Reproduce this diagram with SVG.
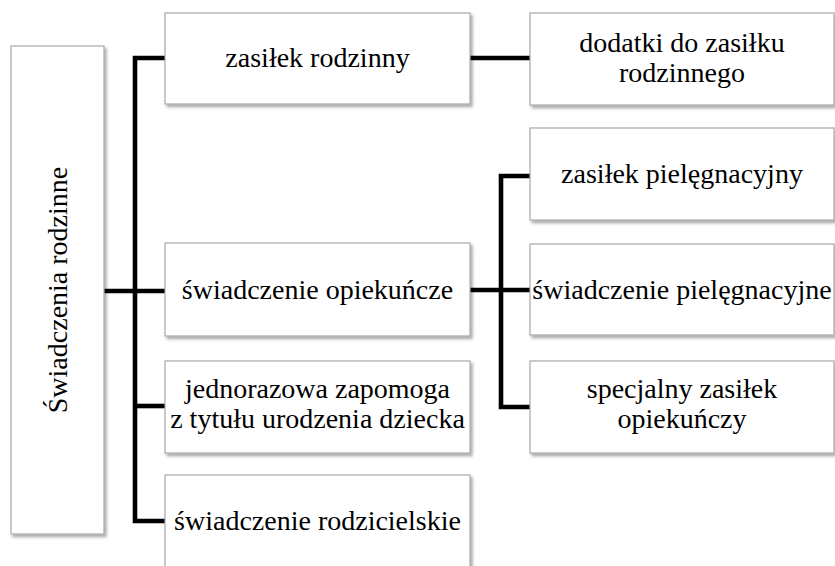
<svg xmlns="http://www.w3.org/2000/svg" width="835" height="566" viewBox="0 0 835 566">
<defs>
<filter id="sh" x="-5%" y="-5%" width="115%" height="115%">
<feDropShadow dx="2" dy="2.5" stdDeviation="1.5" flood-color="#000" flood-opacity="0.35"/>
</filter>
</defs>
<style>
.box{fill:#fff;stroke:#a8a8a8;stroke-width:1.2;filter:url(#sh)}
.t{font-size:28px;fill:#000;text-anchor:middle}
.c{fill:none;stroke:#000;stroke-width:4.6;stroke-linejoin:miter;stroke-linecap:butt}
</style>
<rect width="835" height="566" fill="#fff"/>
<g id="connectors">
<path class="c" d="M165,58 H135 V521 H165"/>
<path class="c" d="M104,291 H165"/>
<path class="c" d="M135,406 H165"/>
<path class="c" d="M470,58 H530"/>
<path class="c" d="M530,176 H501 V407 H530"/>
<path class="c" d="M470,290 H530"/>
</g>
<g font-family="'Liberation Serif', Tinos, 'Times New Roman', 'DejaVu Serif', serif">
<g id="root">
<rect class="box" x="11" y="46" width="93" height="488"/>
<text class="t" transform="translate(67,290) rotate(-90)">Świadczenia rodzinne</text>
</g>
<g id="n1">
<rect class="box" x="165" y="13" width="305" height="91"/>
<text class="t" x="317.5" y="67">zasiłek rodzinny</text>
</g>
<g id="n2">
<rect class="box" x="165" y="243" width="305" height="93"/>
<text class="t" x="317.5" y="299">świadczenie opiekuńcze</text>
</g>
<g id="n3">
<rect class="box" x="165" y="361" width="305" height="92"/>
<text class="t" x="317.5" y="398">jednorazowa zapomoga</text>
<text class="t" x="317.5" y="428">z tytułu urodzenia dziecka</text>
</g>
<g id="n4">
<rect class="box" x="165" y="475" width="305" height="93"/>
<text class="t" x="317.5" y="530">świadczenie rodzicielskie</text>
</g>
<g id="n5">
<rect class="box" x="530" y="13" width="304" height="92"/>
<text class="t" x="682" y="52">dodatki do zasiłku</text>
<text class="t" x="682" y="82">rodzinnego</text>
</g>
<g id="n6">
<rect class="box" x="530" y="128" width="304" height="92"/>
<text class="t" x="682" y="183">zasiłek pielęgnacyjny</text>
</g>
<g id="n7">
<rect class="box" x="530" y="244" width="304" height="91"/>
<text class="t" x="682" y="299">świadczenie pielęgnacyjne</text>
</g>
<g id="n8">
<rect class="box" x="530" y="361" width="304" height="92"/>
<text class="t" x="682" y="398">specjalny zasiłek</text>
<text class="t" x="682" y="428">opiekuńczy</text>
</g>
</g>
</svg>
